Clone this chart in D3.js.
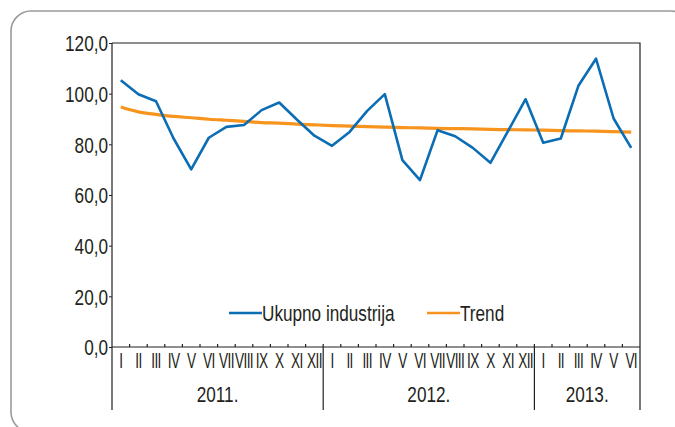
<!DOCTYPE html>
<html>
<head>
<meta charset="utf-8">
<script src="https://cdn.jsdelivr.net/npm/d3@7"></script>
<style>
  body { margin: 0; background: #fff; }
  svg text { font-family: 'Liberation Sans', Arial, sans-serif; fill: #231f20; }
</style>
</head>
<body>
<svg id="chart" width="675" height="427"></svg>
<script>
// months Jan 2011 - Jun 2013
var months = ['I','II','III','IV','V','VI','VII','VIII','IX','X','XI','XII',
              'I','II','III','IV','V','VI','VII','VIII','IX','X','XI','XII',
              'I','II','III','IV','V','VI'];
var years = ['2011.', '2012.', '2013.'];
var yearMonths = [12, 12, 6];

var ukupno = [105.3, 99.8, 97.0, 82.3, 70.1, 82.6, 86.9, 87.6, 93.5, 96.5, 89.8, 83.4,
              79.4, 84.9, 93.2, 99.8, 73.8, 65.9, 85.6, 83.2, 78.6, 72.7, 85.2, 97.8,
              80.6, 82.3, 103.1, 113.8, 90.2, 78.6];
var trend = [94.7, 92.8, 91.8, 91.0, 90.5, 89.9, 89.5, 89.1, 88.6, 88.4, 88.0, 87.7,
             87.4, 87.2, 87.0, 86.8, 86.6, 86.5, 86.3, 86.2, 86.1, 85.9, 85.8, 85.7,
             85.6, 85.4, 85.3, 85.2, 85.0, 84.8];
var yTicks = [0, 20, 40, 60, 80, 100, 120];

var svg = d3.select('#chart');
var pLeft = 112, pRight = 640, pTop = 43, pBottom = 347, yearBottom = 410;
var sx = 0.78; // condensed look

// squeeze a text horizontally around its anchor point
function narrow(sel, k) {
  k = k || sx;
  sel.each(function() {
    var t = d3.select(this);
    var tx = +t.attr('x') || 0, ty = +t.attr('y') || 0;
    t.attr('x', 0).attr('y', 0)
      .attr('transform', 'translate(' + tx + ',' + ty + ') scale(' + k + ',1)');
  });
}

// frame
svg.append('rect')
  .attr('x', 11).attr('y', 11).attr('width', 680).attr('height', 421)
  .attr('rx', 20).attr('ry', 20)
  .attr('fill', 'none').attr('stroke', '#9a9a9a').attr('stroke-width', 1.6);

var x = d3.scaleBand().domain(d3.range(months.length)).range([pLeft, pRight]);
var y = d3.scaleLinear().domain([0, 120]).range([pBottom, pTop]);

// plot border top & right
svg.append('path')
  .attr('d', 'M' + pLeft + ',' + pTop + 'H' + pRight + 'V' + yearBottom)
  .attr('fill', 'none').attr('stroke', '#231f20').attr('stroke-width', 1.2);

// y axis
var yAxis = svg.append('g')
  .attr('transform', 'translate(' + pLeft + ',0)')
  .call(d3.axisLeft(y).tickValues(yTicks).tickSize(3).tickPadding(1)
    .tickFormat(function(d) { return d3.format('.1f')(d).replace('.', ','); }));
yAxis.select('.domain').remove();
yAxis.selectAll('line').attr('stroke', '#231f20');
yAxis.selectAll('text')
  .attr('font-family', null).attr('font-size', null)
  .style('font-size', '22px').attr('fill', '#231f20')
  .attr('dy', '0.36em')
  .each(function() {
    var t = d3.select(this);
    t.attr('transform', 'translate(' + t.attr('x') + ',0) scale(' + sx + ',1)').attr('x', 0);
  });

svg.append('line')
  .attr('x1', pLeft).attr('x2', pLeft).attr('y1', pTop).attr('y2', yearBottom)
  .attr('stroke', '#231f20').attr('stroke-width', 1.2);

// x axis line
svg.append('line')
  .attr('x1', pLeft).attr('x2', pRight).attr('y1', pBottom).attr('y2', pBottom)
  .attr('stroke', '#231f20').attr('stroke-width', 1.2);

// month boundary ticks
svg.append('g').selectAll('line')
  .data(d3.range(1, months.length))
  .enter().append('line')
  .attr('x1', function(d) { return x(d); })
  .attr('x2', function(d) { return x(d); })
  .attr('y1', pBottom - 3).attr('y2', pBottom)
  .attr('stroke', '#231f20').attr('stroke-width', 1.2);

// month labels
svg.append('g').selectAll('text')
  .data(months)
  .enter().append('text')
  .attr('x', function(d, i) { return x(i) + x.bandwidth() / 2; })
  .attr('y', 368)
  .attr('text-anchor', 'middle')
  .style('font-size', '22px')
  .style('letter-spacing', '-1px')
  .text(function(d) { return d; })
  .call(narrow, 0.62);

// year separators & labels
var start = 0;
years.forEach(function(yr, k) {
  var x0 = x(start), x1 = x(start + yearMonths[k] - 1) + x.bandwidth();
  if (k > 0) {
    svg.append('line')
      .attr('x1', x0).attr('x2', x0).attr('y1', pBottom).attr('y2', yearBottom)
      .attr('stroke', '#231f20').attr('stroke-width', 1.2);
  }
  svg.append('text')
    .attr('x', (x0 + x1) / 2).attr('y', 402)
    .attr('text-anchor', 'middle')
    .style('font-size', '22px')
    .text(yr)
    .call(narrow);
  start += yearMonths[k];
});

var line = d3.line()
  .x(function(d, i) { return x(i) + x.bandwidth() / 2; })
  .y(function(d) { return y(d); });

svg.append('path').datum(trend)
  .attr('d', line.curve(d3.curveMonotoneX))
  .attr('fill', 'none').attr('stroke', '#f7941d').attr('stroke-width', 3.2);

svg.append('path').datum(ukupno)
  .attr('d', line.curve(d3.curveLinear))
  .attr('fill', 'none').attr('stroke', '#0b6db3').attr('stroke-width', 2.6)
  .attr('stroke-linejoin', 'round');

// legend
var legend = [
  { name: 'Ukupno industrija', color: '#0b6db3', x: 229 },
  { name: 'Trend', color: '#f7941d', x: 427 }
];
legend.forEach(function(l) {
  svg.append('line')
    .attr('x1', l.x).attr('x2', l.x + 33).attr('y1', 313).attr('y2', 313)
    .attr('stroke', l.color).attr('stroke-width', 2.6);
  svg.append('text')
    .attr('x', l.x + 33).attr('y', 321)
    .style('font-size', '22px')
    .text(l.name)
    .call(narrow);
});
</script>
</body>
</html>
